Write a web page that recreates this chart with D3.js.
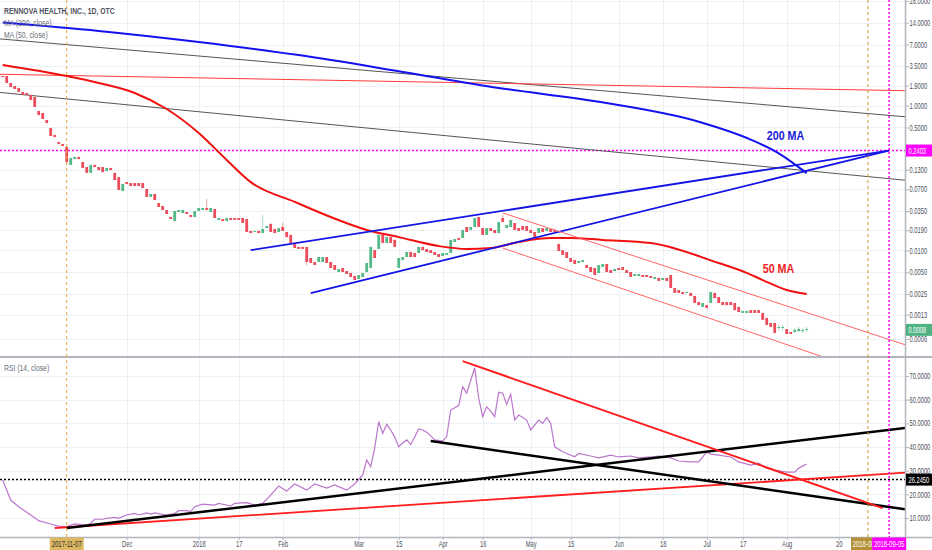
<!DOCTYPE html>
<html>
<head>
<meta charset="utf-8">
<script src="https://cdn.jsdelivr.net/npm/d3@7/dist/d3.min.js"></script>
<style>
  body { margin: 0; background: #fff; }
  svg { display: block; }
</style>
</head>
<body>
<script>
// ---- values ----

// daily candles, one per bar: [open, close] or [open, close, high, low]
const candles = [
  [2.57, 2.49], [2.57, 2.06], [2.06, 1.81], [1.87, 1.70], [1.76, 1.55],
  [1.55, 1.41], [1.50, 1.41], [1.41, 1.20], [1.32, 0.96], [0.845, 0.744],
  [0.793, 0.655], [0.635, 0.577], [0.492, 0.381], [0.394, 0.369], [0.315, 0.296],
  [0.296, 0.278], [0.269, 0.167, 0.269, 0.152], [0.152, 0.189], [0.183, 0.196], [0.196, 0.183],
  [0.167, 0.138], [0.142, 0.118], [0.118, 0.152], [0.152, 0.142], [0.142, 0.129],
  [0.142, 0.121], [0.125, 0.138], [0.138, 0.129], [0.118, 0.0941], [0.103, 0.0685],
  [0.0663, 0.0828], [0.0883, 0.0828], [0.0855, 0.0777], [0.0855, 0.0777], [0.0855, 0.0777],
  [0.0855, 0.0729], [0.0707, 0.0548], [0.0548, 0.0603], [0.0603, 0.0498], [0.0453, 0.0399],
  [0.0411, 0.0362], [0.0362, 0.0319], [0.0290, 0.0272], [0.0255, 0.0351], [0.0340, 0.0362],
  [0.0329, 0.0362], [0.0340, 0.0319], [0.0309, 0.0290], [0.0290, 0.0351], [0.0351, 0.0386],
  [0.0362, 0.0386], [0.0386, 0.0362, 0.0514, 0.0362], [0.0340, 0.0386], [0.0374, 0.0281], [0.0264, 0.0281],
  [0.0272, 0.0255], [0.0255, 0.0281], [0.0281, 0.0264], [0.0281, 0.0264], [0.0281, 0.0264],
  [0.0281, 0.0240], [0.0272, 0.0180], [0.0186, 0.0174], [0.0180, 0.0186], [0.0186, 0.0174],
  [0.0174, 0.0198, 0.0309, 0.0174], [0.0204, 0.0218], [0.0232, 0.0180, 0.0240, 0.0180], [0.0198, 0.0174], [0.0180, 0.0204],
  [0.0211, 0.0186, 0.0240, 0.0186], [0.0180, 0.0153], [0.0164, 0.0127], [0.0127, 0.0108], [0.0112, 0.0105],
  [0.0112, 0.0105], [0.0112, 0.00693, 0.0112, 0.0063], [0.00787, 0.00671], [0.00693, 0.0063], [0.00693, 0.00812],
  [0.00693, 0.00812], [0.00812, 0.00671], [0.00693, 0.00573], [0.0063, 0.00537], [0.00504, 0.00555],
  [0.00573, 0.00504], [0.0052, 0.00473], [0.00488, 0.0043], [0.00444, 0.00391], [0.00404, 0.00458],
  [0.0043, 0.00488], [0.00504, 0.00671], [0.00573, 0.0112], [0.0101, 0.00787], [0.0105, 0.0164],
  [0.0164, 0.0127], [0.0127, 0.0153], [0.0153, 0.0127], [0.0140, 0.0112], [0.00573, 0.00787],
  [0.00737, 0.00812], [0.00812, 0.00952], [0.00952, 0.00812], [0.00923, 0.00812], [0.00923, 0.0112],
  [0.0112, 0.0101], [0.0105, 0.00952], [0.0101, 0.00923], [0.00952, 0.00866], [0.00894, 0.00812],
  [0.00839, 0.00923], [0.00866, 0.00923], [0.00923, 0.0140], [0.0131, 0.0144], [0.0149, 0.0140],
  [0.0149, 0.0192], [0.0211, 0.0180], [0.0192, 0.0211], [0.0211, 0.0281], [0.0290, 0.0211],
  [0.0204, 0.0164], [0.0164, 0.0204], [0.0204, 0.0186], [0.0192, 0.0174], [0.0174, 0.0247],
  [0.0281, 0.0247, 0.0309, 0.0247], [0.0204, 0.0225], [0.0211, 0.0264], [0.0240, 0.0192], [0.0204, 0.0186],
  [0.0218, 0.0192], [0.0218, 0.0186], [0.0192, 0.0174], [0.0180, 0.0153], [0.0174, 0.0204],
  [0.0204, 0.0180], [0.0186, 0.0204], [0.0198, 0.0180], [0.0192, 0.0180], [0.0123, 0.00983],
  [0.0101, 0.00866], [0.00952, 0.00787], [0.00787, 0.00693], [0.00739, 0.0065], [0.00671, 0.00715],
  [0.00693, 0.00739], [0.0063, 0.00573], [0.00591, 0.00504], [0.00573, 0.00458], [0.00488, 0.0063],
  [0.00591, 0.0065], [0.0065, 0.00504], [0.00537, 0.00488], [0.0052, 0.00555], [0.00573, 0.00537],
  [0.00591, 0.00537], [0.00537, 0.00488], [0.00504, 0.0043], [0.00444, 0.00473], [0.00444, 0.00473],
  [0.00458, 0.0043], [0.00458, 0.0043], [0.00444, 0.00417], [0.00404, 0.0043], [0.00417, 0.00379],
  [0.00391, 0.00417], [0.00417, 0.00379], [0.00458, 0.00303], [0.00303, 0.00259], [0.00284, 0.00259],
  [0.00267, 0.0025], [0.00259, 0.00267], [0.00259, 0.00235], [0.00235, 0.00188], [0.00194, 0.00176],
  [0.00166, 0.00188], [0.00176, 0.0016], [0.00188, 0.00267], [0.00259, 0.0022], [0.00228, 0.00188],
  [0.00194, 0.00176], [0.00194, 0.00176], [0.00194, 0.00176], [0.00188, 0.0015], [0.00166, 0.00141],
  [0.00137, 0.00146], [0.00137, 0.00146], [0.0015, 0.00137], [0.0015, 0.00137], [0.0015, 0.00137],
  [0.00137, 0.0011], [0.00117, 0.000934], [0.000995, 0.000876], [0.000995, 0.000724], [0.000849, 0.000876, 0.00095, 0.00078],
  [0.000849, 0.000876, 0.00095, 0.00078], [0.000822, 0.000702], [0.000748, 0.000702], [0.000748, 0.000797, 0.00085, 0.00072], [0.00077, 0.000822, 0.00088, 0.00074],
  [0.00077, 0.000797, 0.00086, 0.00072], [0.000797, 0.000822, 0.00088, 0.00075]
];

// moving averages, [bar, value]
const ma200 = [
  [0, 14.1], [24, 10.8], [49, 7.6], [74, 5.0], [99, 3.0], [124, 1.76],
  [149, 1.13], [174, 0.60], [187, 0.34], [194, 0.22], [201, 0.117]
];
const ma50 = [
  [0, 3.65], [16, 2.57], [24, 2.06], [33, 1.50], [41, 0.90], [49, 0.42],
  [56, 0.178], [62, 0.088], [73, 0.047], [82, 0.029], [91, 0.0192], [99, 0.0153],
  [109, 0.0115], [116, 0.0105], [122, 0.0108], [129, 0.0131], [137, 0.0149], [142, 0.0149],
  [150, 0.0140], [162, 0.0127], [179, 0.0067], [186, 0.0049], [190, 0.0039], [196, 0.00284],
  [201, 0.0025]
];

// RSI (14), [bar, value]
const rsi = [
  [0, 26.1], [2, 17.6], [4, 14.8], [7, 11.3], [9, 8.9], [12, 7.5], [14, 6.6], [16, 6.3],
  [17, 7.0], [18, 7.5], [21, 7.0], [22, 7.8], [23, 9.5], [25, 9.5], [26, 9.9], [28, 10.3],
  [29, 9.9], [31, 11.3], [33, 12.0], [34, 11.3], [36, 12.2], [37, 11.7], [38, 12.2], [41, 11.3],
  [43, 12.0], [44, 13.1], [46, 13.1], [47, 12.7], [48, 14.8], [50, 15.9], [53, 15.5], [54, 16.2],
  [57, 15.1], [58, 16.2], [61, 16.5], [63, 15.5], [65, 16.2], [67, 19.7], [69, 23.5], [71, 21.4],
  [73, 24.4], [76, 21.8], [78, 24.4], [81, 22.7], [83, 24.0], [86, 21.8], [88, 24.4], [90, 28.2],
  [91, 34.5], [92, 31.7], [93, 39.5], [94, 50.7], [95, 45.8], [96, 49.6], [97, 47.2], [98, 44.2],
  [99, 40.1], [100, 41.7], [101, 43.0], [102, 41.1], [103, 44.2], [104, 47.6], [105, 47.2], [106, 46.2],
  [107, 44.7], [108, 43.0], [110, 42.5], [111, 44.4], [112, 55.6], [114, 57.5], [115, 65.5], [116, 62.7],
  [118, 73.5], [119, 60.6], [120, 52.8], [121, 57.0], [122, 55.2], [123, 52.8], [124, 63.1], [125, 62.7],
  [126, 58.0], [127, 62.3], [128, 51.4], [129, 53.5], [131, 51.4], [132, 47.2], [134, 51.4], [135, 50.0],
  [136, 52.4], [137, 50.0], [138, 40.1], [140, 38.0], [143, 35.9], [144, 37.3], [147, 36.2], [149, 35.4],
  [152, 36.6], [154, 35.8], [157, 36.2], [159, 35.4], [162, 35.8], [164, 36.2], [167, 35.4], [169, 34.1],
  [172, 33.7], [174, 33.7], [176, 37.9], [177, 37.0], [179, 36.6], [182, 35.8], [184, 33.7], [187, 32.4],
  [189, 33.2], [191, 31.1], [193, 30.3], [196, 29.4], [198, 29.4], [199, 31.1], [201, 32.8]
];

// axis ticks
const priceTicks = [28, 14, 7, 3.5, 1.9, 1.0, 0.5, 0.13, 0.07, 0.035, 0.019, 0.01, 0.005, 0.0025, 0.0013, 0.0006];
const rsiTicks = [70, 60, 50, 40, 30, 20, 10];
const timeTickBars = [31, 49, 59, 70, 89, 99, 110, 120, 132, 142, 154, 165, 176, 185, 196, 209];
const timeTickLabels = ["Dec", "2018", "17", "Feb", "Mar", "15", "Apr", "16", "May", "15", "Jun", "18", "Jul", "17", "Aug", "20"];

// drawn lines, [[bar, value], [bar, value]]
const fanLines = [[[-1, 8.4], [226, 0.70]], [[-1, 1.53], [226, 0.093]]];
const levelLine = [[-1, 2.72], [226, 1.61]];
const wedgeLines = [[[62, 0.0101], [221.5, 0.240]], [[77, 0.00258], [221.5, 0.240]]];
const channelLines = [[[125, 0.033], [226, 0.00049]], [[125, 0.0108], [205, 0.00034]]];
const rsiBlackLines = [[[16, 5.8], [226, 48.1]], [[107, 42.5], [226, 13.6]]];
const rsiRedThick = [[115, 76.3], [220, 14.2]];
const rsiRedThin = [[13, 5.8], [226, 29.2]];

// horizontal levels and markers
const priceLevel = 0.2403;
const lastPrice = 0.0008;
const rsiLevel = 26.245;
const markerBars = [16, 216.3, 221.6];
const markerLabels = ["2017-11-07", "2018-08-29", "2018-09-05"];
const noteBars = [191, 190];
const noteValues = [0.335, 0.00488];
const noteTexts = ["200 MA", "50 MA"];

// ---- layout ----
const W = 932, H = 550;
const axisX = 905;
const mainBottom = 357, rsiTop = 358, rsiBottom = 537;
const squeeze = 0.7;
const font = "'Liberation Sans', Arial, sans-serif";
const upColor = "#53b987", downColor = "#eb4d5c";

const svg = d3.select("body").append("svg")
  .attr("width", W)
  .attr("height", H)
  .attr("font-family", font);

// scales
const x = d3.scaleLinear().domain([0, 225.5]).range([2.7, 904.7]);
const y = d3.scaleLog().domain([0.0003375, 28.86]).range([mainBottom, 0]);
const yRsi = d3.scaleLinear().domain([2, 77.6]).range([rsiBottom, rsiTop]);

const defs = svg.append("defs");
defs.append("clipPath").attr("id", "clip-main")
  .append("rect").attr("width", axisX).attr("height", mainBottom);
defs.append("clipPath").attr("id", "clip-rsi")
  .append("rect").attr("y", rsiTop).attr("width", axisX).attr("height", rsiBottom - rsiTop);

// grid
const grid = svg.append("g").attr("stroke", "#edf1f6").attr("stroke-width", 1);
grid.selectAll(".gx").data(timeTickBars).join("line").attr("class", "gx")
  .attr("x1", d => Math.round(x(d)) + 0.5).attr("x2", d => Math.round(x(d)) + 0.5)
  .attr("y1", 0).attr("y2", rsiBottom);
grid.selectAll(".gy").data(priceTicks).join("line").attr("class", "gy")
  .attr("x1", 0).attr("x2", axisX)
  .attr("y1", d => Math.round(y(d)) + 0.5).attr("y2", d => Math.round(y(d)) + 0.5);
grid.selectAll(".gr").data(rsiTicks).join("line").attr("class", "gr")
  .attr("x1", 0).attr("x2", axisX)
  .attr("y1", d => Math.round(yRsi(d)) + 0.5).attr("y2", d => Math.round(yRsi(d)) + 0.5);

// line generators
const straight = d3.line().x(d => x(d[0])).y(d => y(d[1]));
const smooth = d3.line().x(d => x(d[0])).y(d => y(d[1])).curve(d3.curveMonotoneX);
const rsiPath = d3.line().x(d => x(d[0])).y(d => yRsi(d[1]));

// ---- main pane ----
const main = svg.append("g").attr("clip-path", "url(#clip-main)");

main.append("line")
  .attr("x1", 0).attr("x2", axisX)
  .attr("y1", y(priceLevel)).attr("y2", y(priceLevel))
  .attr("stroke", "#ff00ff").attr("stroke-width", 1.5).attr("stroke-dasharray", "2,2");

main.selectAll(".fan").data(fanLines).join("path").attr("class", "fan")
  .attr("d", straight).attr("fill", "none").attr("stroke", "#555").attr("stroke-width", 1);
main.append("path").attr("d", straight(levelLine))
  .attr("fill", "none").attr("stroke", "#ff3b3b").attr("stroke-width", 1);

// candles
const bars = candles.map((d, i) => ({
  i,
  o: d[0],
  c: d[1],
  h: d.length > 2 ? d[2] : Math.max(d[0], d[1]),
  l: d.length > 3 ? d[3] : Math.min(d[0], d[1])
}));
const candleG = main.append("g");
candleG.selectAll("line").data(bars).join("line")
  .attr("x1", d => x(d.i)).attr("x2", d => x(d.i))
  .attr("y1", d => y(d.h)).attr("y2", d => y(d.l))
  .attr("stroke", d => (d.c >= d.o ? upColor : downColor))
  .attr("stroke-opacity", 0.5);
candleG.selectAll("rect").data(bars).join("rect")
  .attr("x", d => x(d.i) - 1.4)
  .attr("width", 2.8)
  .attr("y", d => y(Math.max(d.o, d.c)))
  .attr("height", d => Math.max(1, y(Math.min(d.o, d.c)) - y(Math.max(d.o, d.c))))
  .attr("fill", d => (d.c >= d.o ? upColor : downColor));

// moving averages
main.append("path").attr("d", smooth(ma200))
  .attr("fill", "none").attr("stroke", "#1212f0").attr("stroke-width", 2);
main.append("path").attr("d", smooth(ma50))
  .attr("fill", "none").attr("stroke", "#f01010").attr("stroke-width", 2);

// wedge and channel
main.selectAll(".wedge").data(wedgeLines).join("path").attr("class", "wedge")
  .attr("d", straight).attr("fill", "none").attr("stroke", "#1414e6").attr("stroke-width", 1.8);
main.selectAll(".channel").data(channelLines).join("path").attr("class", "channel")
  .attr("d", straight).attr("fill", "none").attr("stroke", "#ff6464").attr("stroke-width", 1);

// notes
const noteColors = ["#1a1ad8", "#ee1c1c"];
main.selectAll(".note").data(noteTexts).join("text").attr("class", "note")
  .attr("transform", (d, i) => `translate(${x(noteBars[i])},${y(noteValues[i])}) scale(0.86,1)`)
  .attr("font-size", 12.5).attr("font-weight", "bold")
  .attr("fill", (d, i) => noteColors[i])
  .text(d => d);

// ---- rsi pane ----
const lower = svg.append("g").attr("clip-path", "url(#clip-rsi)");

lower.append("path").attr("d", rsiPath(rsi))
  .attr("fill", "none").attr("stroke", "#bb77cc").attr("stroke-width", 1.2);
lower.append("line")
  .attr("x1", 0).attr("x2", axisX)
  .attr("y1", yRsi(rsiLevel)).attr("y2", yRsi(rsiLevel))
  .attr("stroke", "#000").attr("stroke-width", 1.5).attr("stroke-dasharray", "2,2");
lower.append("path").attr("d", rsiPath(rsiRedThin))
  .attr("fill", "none").attr("stroke", "#ff1e1e").attr("stroke-width", 1.8);
lower.selectAll(".rb").data(rsiBlackLines).join("path").attr("class", "rb")
  .attr("d", rsiPath).attr("fill", "none").attr("stroke", "#000").attr("stroke-width", 2.5);
lower.append("path").attr("d", rsiPath(rsiRedThick))
  .attr("fill", "none").attr("stroke", "#ff1e1e").attr("stroke-width", 2);

// ---- frame ----
const frame = svg.append("g").attr("stroke", "#b2b5be");
frame.append("line").attr("x1", 0).attr("x2", W).attr("y1", 357).attr("y2", 357).attr("stroke-width", 2);
frame.append("line").attr("x1", 0).attr("x2", W).attr("y1", rsiBottom + 0.5).attr("y2", rsiBottom + 0.5).attr("stroke-width", 1.5);
frame.append("line").attr("x1", axisX + 0.5).attr("x2", axisX + 0.5).attr("y1", 0).attr("y2", H).attr("stroke-width", 1.5);

// axes
const styleAxis = (g) => {
  g.attr("font-family", font).attr("font-size", 8.2);
  g.select(".domain").remove();
  g.selectAll(".tick line").attr("stroke", "#b2b5be");
  g.selectAll(".tick text").attr("fill", "#4a4f5a").attr("transform", `scale(${squeeze},1)`);
};

svg.append("g")
  .attr("transform", `translate(${axisX},0)`)
  .call(d3.axisRight(y).tickValues(priceTicks).tickFormat(d3.format(".4f")).tickSize(4).tickPadding(2.5))
  .call(styleAxis);
svg.append("g")
  .attr("transform", `translate(${axisX},0)`)
  .call(d3.axisRight(yRsi).tickValues(rsiTicks).tickFormat(d3.format(".4f")).tickSize(4).tickPadding(2.5))
  .call(styleAxis);
svg.append("g")
  .attr("transform", `translate(0,${rsiBottom})`)
  .call(d3.axisBottom(x).tickValues(timeTickBars).tickFormat((d, i) => timeTickLabels[i]).tickSize(3).tickPadding(1.5))
  .call(styleAxis);

// vertical markers
const markerColors = ["#e8a33b", "#c99a2e", "#ff00ff"];
const markerDash = ["3,3", "3,3", "2,2"];
const markerFill = ["#dcb861", "#b39035", "#ff00ff"];
const markerText = ["#333", "#fff", "#fff"];
svg.selectAll(".mline").data(markerBars).join("line").attr("class", "mline")
  .attr("x1", d => x(d)).attr("x2", d => x(d))
  .attr("y1", 0).attr("y2", rsiBottom)
  .attr("stroke", (d, i) => markerColors[i])
  .attr("stroke-width", (d, i) => (i === 2 ? 1.5 : 1))
  .attr("stroke-dasharray", (d, i) => markerDash[i]);

// the later marker box covers part of the earlier one
defs.append("clipPath").attr("id", "clip-mark")
  .append("rect").attr("x", -17).attr("y", 0).attr("width", x(markerBars[2]) - x(markerBars[1])).attr("height", 14);
const mbox = svg.selectAll(".mbox").data(markerBars).join("g").attr("class", "mbox")
  .attr("transform", d => `translate(${x(d)},${rsiBottom})`)
  .attr("clip-path", (d, i) => (i === 1 ? "url(#clip-mark)" : null));
mbox.append("rect")
  .attr("x", -17).attr("width", 34).attr("y", 0.5).attr("height", 13)
  .attr("fill", (d, i) => markerFill[i]);
mbox.append("text")
  .attr("transform", `translate(0,10) scale(${squeeze},1)`)
  .attr("text-anchor", "middle").attr("font-size", 8.5)
  .attr("fill", (d, i) => markerText[i])
  .text((d, i) => markerLabels[i]);

// price boxes on the axis
const boxes = [
  { y: y(priceLevel), text: d3.format(".4f")(priceLevel), fill: "#ff00ff" },
  { y: y(lastPrice), text: d3.format(".4f")(lastPrice), fill: "#4fb383" },
  { y: yRsi(rsiLevel), text: d3.format(".4f")(rsiLevel), fill: "#000" }
];
const box = svg.selectAll(".pbox").data(boxes).join("g").attr("class", "pbox")
  .attr("transform", d => `translate(${axisX + 1},${d.y})`);
box.append("rect").attr("x", 0).attr("y", -6).attr("width", W - axisX).attr("height", 12).attr("fill", d => d.fill);
box.append("text")
  .attr("transform", `translate(2.5,3) scale(${squeeze},1)`)
  .attr("font-size", 8.2).attr("fill", "#fff")
  .text(d => d.text);

// legends
const legend = (tx, ty, text, color, weight) =>
  svg.append("text")
    .attr("transform", `translate(${tx},${ty}) scale(0.72,1)`)
    .attr("font-size", 9.5)
    .attr("font-weight", weight)
    .attr("fill", color)
    .text(text);
legend(4, 14, "RENNOVA HEALTH, INC., 1D, OTC", "#50535e", "bold");
legend(4, 26, "MA (200, close)", "#6a6d78", "normal");
legend(4, 37.5, "MA (50, close)", "#6a6d78", "normal");
legend(4, 371, "RSI (14, close)", "#6a6d78", "normal");
</script>
</body>
</html>
